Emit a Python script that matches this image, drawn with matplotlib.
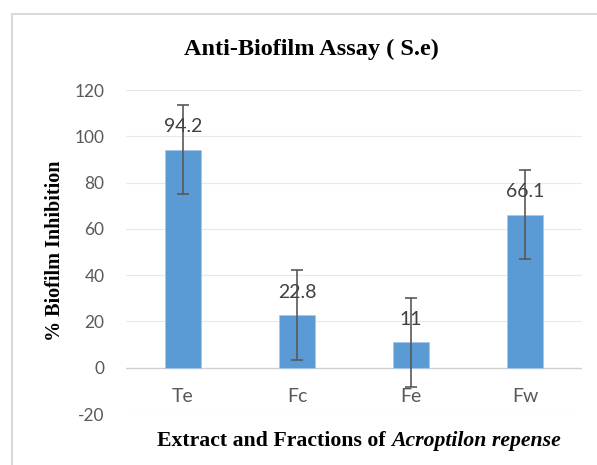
import matplotlib
matplotlib.use("Agg")
import matplotlib.pyplot as plt
from matplotlib.lines import Line2D
from matplotlib.offsetbox import TextArea, HPacker, AnnotationBbox

categories = ["Te", "Fc", "Fe", "Fw"]
values = [94.2, 22.8, 11, 66.1]
errors = [19.3, 19.3, 19.3, 19.3]
value_labels = ["94.2", "22.8", "11", "66.1"]
yticks = [-20, 0, 20, 40, 60, 80, 100, 120]

W, H = 597, 465
fig = plt.figure(figsize=(W / 100, H / 100), dpi=100)
ax = fig.add_axes([126 / W, 1 - 414 / H, (582 - 126) / W, (414 - 90) / H])

bar_color = "#5B9BD5"
txt_gray = "#595959"
ax.bar(range(len(categories)), values, width=0.31, color=bar_color,
       edgecolor="#A9C8EA", linewidth=0.6, zorder=2)
ax.errorbar(range(len(categories)), values, yerr=errors, fmt="none",
            ecolor="#595959", elinewidth=1.2, capsize=4, capthick=1.2, zorder=3)

ax.set_xlim(-0.5, len(categories) - 0.5)
ax.set_ylim(-20, 120)
ax.set_yticks(yticks)
ax.set_yticklabels([str(t) for t in yticks], fontfamily="Lato", fontsize=12.4, color=txt_gray)
ax.tick_params(axis="y", length=0, pad=15.5)
ax.set_xticks([])
for s in ax.spines.values():
    s.set_visible(False)
for t in yticks:
    ax.axhline(t, color="#d0d0d0" if t == 0 else "#e9e9e9", lw=1.0 if t == 0 else 0.8, zorder=1)

for i, (v, lab) in enumerate(zip(values, value_labels)):
    ax.annotate(lab, (i, v), xytext=(0, 16.5), textcoords="offset points",
                ha="center", va="center", fontfamily="Lato", fontsize=14, color="#404040", zorder=4)
for i, c in enumerate(categories):
    ax.annotate(c, (i, 0), xytext=(0, -20.5), textcoords="offset points",
                ha="center", va="center", fontfamily="Lato", fontsize=14, color=txt_gray)

fig.text(311 / W, 1 - 55 / H, "Anti-Biofilm Assay ( S.e)", ha="center", va="baseline",
         fontfamily="Liberation Serif", fontweight="bold", fontsize=17.5)
fig.text(55 / W, 1 - 250.5 / H, "% Biofilm Inhibition", ha="center", va="center", rotation=90,
         fontfamily="Liberation Serif", fontweight="bold", fontsize=14.5)

ta1 = TextArea("Extract and Fractions of ",
               textprops=dict(fontfamily="Liberation Serif", fontweight="bold", fontsize=15.7))
ta2 = TextArea("Acroptilon repense",
               textprops=dict(fontfamily="Liberation Serif", fontweight="bold", fontstyle="italic", fontsize=15.7))
pack = HPacker(children=[ta1, ta2], pad=0, sep=0, align="baseline")
ab = AnnotationBbox(pack, (359 / W, 1 - 441 / H), xycoords="figure fraction",
                    frameon=False, box_alignment=(0.5, 0.5), pad=0)
fig.add_artist(ab)

fig.add_artist(Line2D([12 / W, 1], [1 - 14 / H, 1 - 14 / H], transform=fig.transFigure,
                      color="#d6d6d6", lw=1.3))
fig.add_artist(Line2D([12 / W, 12 / W], [1 - 14 / H, 0], transform=fig.transFigure,
                      color="#d6d6d6", lw=1.3))

fig.savefig("out.png", dpi=100, facecolor="white")
